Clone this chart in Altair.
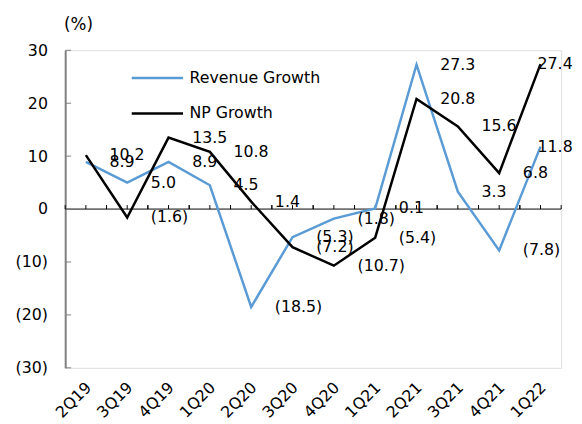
import altair as alt
import pandas as pd

categories = ["2Q19", "3Q19", "4Q19", "1Q20", "2Q20", "3Q20", "4Q20", "1Q21", "2Q21", "3Q21", "4Q21", "1Q22"]
revenue_growth = [8.9, 5.0, 8.9, 4.5, -18.5, -5.3, -1.8, 0.1, 27.3, 3.3, -7.8, 11.8]
np_growth = [10.2, -1.6, 13.5, 10.8, 1.4, -7.2, -10.7, -5.4, 20.8, 15.6, 6.8, 27.4]
series_names = ["Revenue Growth", "NP Growth"]
series_colors = ["#5B9BD5", "#000000"]
y_ticks = [-30, -20, -10, 0, 10, 20, 30]

rows = []
for name, vals in zip(series_names, [revenue_growth, np_growth]):
    for c, v in zip(categories, vals):
        rows.append({"cat": c, "series": name, "value": v})
df = pd.DataFrame(rows)
tick_df = pd.DataFrame({"value": y_ticks})
cat_df = pd.DataFrame({"cat": categories})
zero_df = pd.DataFrame({"value": [0]})

W, H = 503, 322
FONT = "DejaVu Sans"

x_scale = alt.Scale(type="band", domain=categories, paddingInner=0, paddingOuter=0)
y_scale = alt.Scale(domain=[-30, 30], nice=False, zero=False)

x_axis = alt.Axis(title=None, domain=False, ticks=False, labelAngle=-45, labelAlign="right",
                  labelBaseline="middle", labelPadding=17, labelOffset=3, labelFont=FONT, labelFontSize=16,
                  labelColor="#000000", grid=False)
y_axis = alt.Axis(values=y_ticks, title="(%)", titleAngle=0, titleX=13, titleY=-26,
                  titleAlign="center", titleBaseline="middle", titleFont=FONT, titleFontSize=17,
                  titleFontWeight="normal", titleColor="#000000", labelFont=FONT, labelFontSize=16,
                  labelColor="#000000", labelPadding=18, ticks=False, tickSize=0,
                  domainColor="#808080", domainWidth=2, grid=False,
                  labelExpr="datum.value < 0 ? '(' + (-datum.value) + ')' : datum.value + '\u00a0'")

lines = alt.Chart(df).mark_line(strokeWidth=2.5).encode(
    x=alt.X("cat:N", scale=x_scale, bandPosition=0.5, axis=x_axis),
    y=alt.Y("value:Q", scale=y_scale, axis=y_axis),
    color=alt.Color("series:N", scale=alt.Scale(domain=series_names, range=series_colors),
                    legend=alt.Legend(orient="none", legendX=66, legendY=18, title=None,
                                      symbolType="stroke", symbolSize=2704, symbolStrokeWidth=2.5,
                                      clipHeight=20, rowPadding=16, labelFont=FONT,
                                      labelFontSize=16, labelColor="#000000", labelOffset=5,
                                      padding=0)),
    order=alt.Order("order:Q"),
).transform_window(order="row_number()", groupby=["series"])

label_expr = "datum.value < 0 ? '(' + format(-datum.value, '.1f') + ')' : format(datum.value, '.1f')"

labels_main = alt.Chart(df).transform_filter(f"datum.cat != '{categories[-1]}'").transform_calculate(
    label=label_expr
).mark_text(align="left", baseline="middle", dx=24, dy=0, font=FONT, fontSize=16, color="#000000").encode(
    x=alt.X("cat:N", scale=x_scale, bandPosition=0.5),
    y=alt.Y("value:Q", scale=y_scale),
    text="label:N",
)
labels_last = alt.Chart(df).transform_filter(f"datum.cat == '{categories[-1]}'").transform_calculate(
    label=label_expr
).mark_text(align="left", baseline="middle", dx=-3, dy=0, font=FONT, fontSize=16, color="#000000").encode(
    x=alt.X("cat:N", scale=x_scale, bandPosition=0.5),
    y=alt.Y("value:Q", scale=y_scale),
    text="label:N",
)

zero_line = alt.Chart(zero_df).mark_rule(color="#000000", strokeWidth=1).encode(
    y=alt.Y("value:Q", scale=y_scale), x=alt.value(0), x2=alt.value(W)
)

y_tick_marks = alt.Chart(tick_df).mark_rule(color="#808080", strokeWidth=1).encode(
    y=alt.Y("value:Q", scale=y_scale), x=alt.value(0), x2=alt.value(6)
)


def x_ticks(bp):
    return alt.Chart(cat_df).mark_rule(color="#000000", strokeWidth=1).encode(
        x=alt.X("cat:N", scale=x_scale, bandPosition=bp),
        y=alt.YDatum(0),
        y2=alt.datum(0.75),
    )


chart = alt.layer(
    zero_line, y_tick_marks, x_ticks(0), x_ticks(0.5), x_ticks(1), lines, labels_main, labels_last
).properties(
    width=W, height=H,
    autosize=alt.AutoSizeParams(type="none"),
    padding={"left": 58, "top": 40, "right": 13, "bottom": 50},
).configure_view(stroke=None).configure(background="#ffffff")

chart.save("out.html", embed_options={"renderer": "svg", "actions": False})
